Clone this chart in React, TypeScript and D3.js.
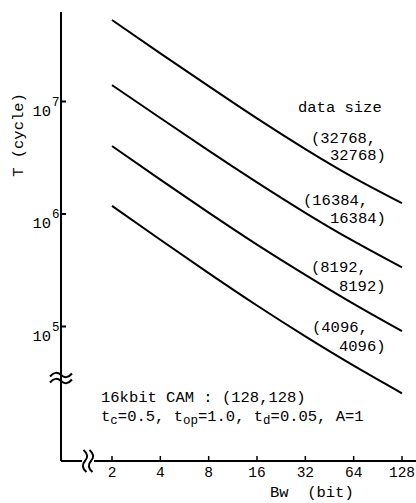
import React from "react";
import * as d3 from "d3";

const bwValues = [2, 4, 8, 16, 32, 64, 128];
const bwTickLabels = ["2", "4", "8", "16", "32", "64", "128"];
const yTickValues = [1e5, 1e6, 1e7];
const yTickExponents = ["5", "6", "7"];

const sizeLabels = [
  ["(32768,", "32768)"],
  ["(16384,", "16384)"],
  ["(8192,", "8192)"],
  ["(4096,", "4096)"],
];
const t32768 = [5.3e7, 2.68e7, 1.37e7, 7.08e6, 3.78e6, 2.11e6, 1.25e6];
const t16384 = [1.4e7, 7.14e6, 3.66e6, 1.91e6, 1.025e6, 5.73e5, 3.35e5];
const t8192 = [4.02e6, 2.02e6, 1.03e6, 5.35e5, 2.88e5, 1.59e5, 9.1e4];
const t4096 = [1.18e6, 5.9e5, 2.98e5, 1.536e5, 8.17e4, 4.49e4, 2.55e4];
const seriesValues = [t32768, t16384, t8192, t4096];

const FONT = "'Liberation Mono', 'DejaVu Sans Mono', monospace";

export default function App() {
  const W = 416;
  const H = 503;
  const axisX = 61;
  const axisY = 461;
  const x = d3.scaleLog().base(2).domain([2, 128]).range([112, 402]);
  const y = d3.scaleLog().domain([1e5, 1e7]).range([326.5, 101.5]);

  const line = d3
    .line<number>()
    .x((_, i) => x(bwValues[i]))
    .y((d) => y(d))
    .curve(d3.curveNatural);

  // label anchor positions (pixel layout)
  const labelPos = [
    { x1: 311, y1: 143, x2: 330, y2: 160 },
    { x1: 303, y1: 205, x2: 330, y2: 223 },
    { x1: 311, y1: 272, x2: 339, y2: 291 },
    { x1: 312, y1: 332, x2: 339, y2: 351 },
  ];

  const tilde = (cx: number, cy: number) =>
    `M${cx - 11},${cy + 1.5} Q${cx - 5.5},${cy - 5} ${cx},${cy} T${cx + 11},${cy - 1.5}`;
  const vtilde = (cx: number, cy: number) =>
    `M${cx - 1.5},${cy - 11} Q${cx + 5},${cy - 5.5} ${cx},${cy} T${cx + 1.5},${cy + 11}`;

  return (
    <svg
      width={W}
      height={H}
      style={{ position: "absolute", left: 0, top: 0, background: "#fff" }}
      fontFamily={FONT}
    >
      <rect width={W} height={H} fill="#fff" />
      {/* axes */}
      <line x1={axisX} y1={12} x2={axisX} y2={axisY} stroke="#000" strokeWidth={2} />
      <line x1={axisX} y1={axisY} x2={W} y2={axisY} stroke="#000" strokeWidth={2} />

      {/* y break */}
      <rect x={axisX - 12} y={372} width={24} height={12} fill="#fff" />
      <line x1={axisX} y1={370} x2={axisX} y2={386} stroke="#000" strokeWidth={2} />
      <path d={tilde(axisX, 375)} fill="none" stroke="#000" strokeWidth={2} />
      <path d={tilde(axisX, 381)} fill="none" stroke="#000" strokeWidth={2} />

      {/* x break */}
      <rect x={82} y={452} width={12} height={18} fill="#fff" />
      <path d={vtilde(85, 461)} fill="none" stroke="#000" strokeWidth={2} />
      <path d={vtilde(91, 461)} fill="none" stroke="#000" strokeWidth={2} />

      {/* y ticks */}
      {yTickValues.map((v, i) => (
        <g key={v}>
          <line x1={axisX} x2={axisX + 5} y1={y(v)} y2={y(v)} stroke="#000" strokeWidth={2} />
          <text x={51} y={y(v) + 14} fontSize={15.5} textAnchor="end">
            10
          </text>
          <text x={52} y={y(v) + 4} fontSize={12.5}>
            {yTickExponents[i]}
          </text>
        </g>
      ))}

      {/* x ticks */}
      {bwValues.map((v, i) => (
        <g key={v}>
          <line x1={x(v)} x2={x(v)} y1={axisY} y2={axisY - 5} stroke="#000" strokeWidth={1.5} />
          <text x={x(v)} y={477} fontSize={14.5} textAnchor="middle">
            {bwTickLabels[i]}
          </text>
        </g>
      ))}

      {/* axis titles */}
      <text x={270} y={497} fontSize={15.5} style={{ whiteSpace: "pre" }}>
        {"Bw  (bit)"}
      </text>
      <text transform="translate(23,135) rotate(-90)" fontSize={15.5} textAnchor="middle">
        T (cycle)
      </text>

      {/* series lines */}
      {seriesValues.map((vals, i) => (
        <path key={i} d={line(vals) || ""} fill="none" stroke="#000" strokeWidth={2} />
      ))}

      {/* labels */}
      <text x={298} y={112} fontSize={15.5}>
        data size
      </text>
      {sizeLabels.map((lab, i) => (
        <g key={i}>
          <text x={labelPos[i].x1} y={labelPos[i].y1} fontSize={15.5}>
            {lab[0]}
          </text>
          <text x={labelPos[i].x2} y={labelPos[i].y2} fontSize={15.5}>
            {lab[1]}
          </text>
        </g>
      ))}

      {/* annotation */}
      <text x={101} y={402} fontSize={15.5} style={{ whiteSpace: "pre" }}>
        16kbit CAM : (128,128)
      </text>
      <text x={101} y={421} fontSize={15.5} style={{ whiteSpace: "pre" }}>
        <tspan>t</tspan>
        <tspan fontSize={12.5} dy={3}>c</tspan>
        <tspan dy={-3}>=0.5, t</tspan>
        <tspan fontSize={12.5} dy={3}>op</tspan>
        <tspan dy={-3}>=1.0, t</tspan>
        <tspan fontSize={12.5} dy={3}>d</tspan>
        <tspan dy={-3}>=0.05, A=1</tspan>
      </text>
    </svg>
  );
}
